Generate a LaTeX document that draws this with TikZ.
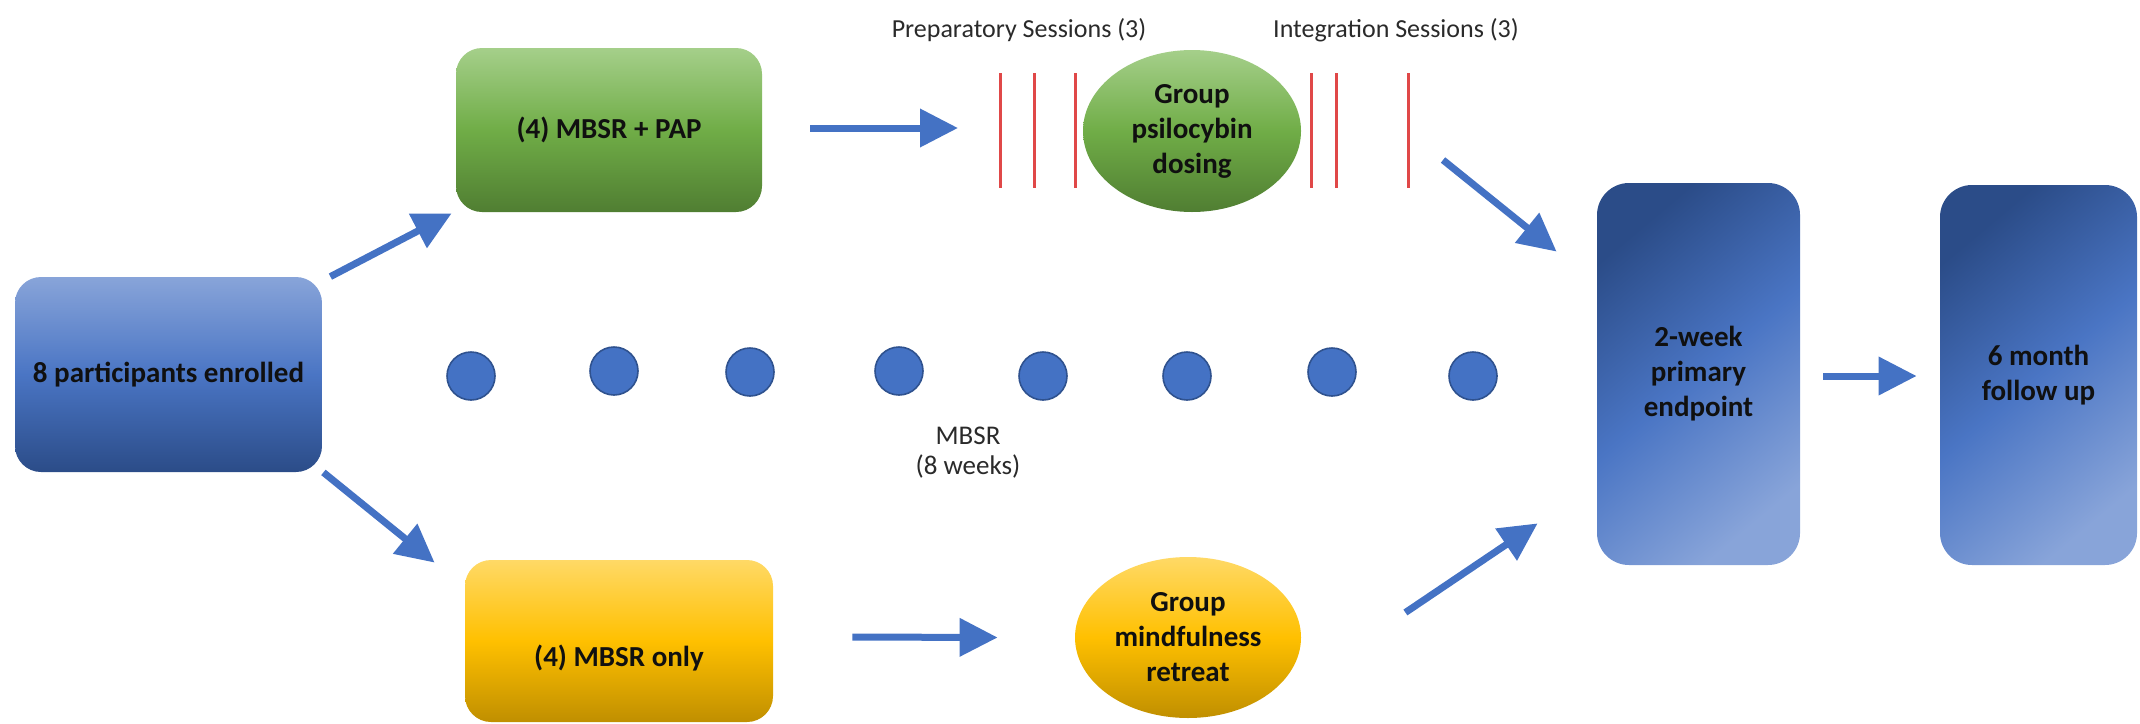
\documentclass[tikz,border=0pt]{standalone}
\usepackage{fontspec}
\setmainfont{Carlito}
\usetikzlibrary{arrows.meta,shapes.geometric}
\definecolor{arrblue}{HTML}{4472C4}
\definecolor{dotedge}{HTML}{2F528F}
\definecolor{blueL}{HTML}{88A4D9}
\definecolor{blueM}{HTML}{4A75C4}
\definecolor{blueD}{HTML}{2B4C88}
\definecolor{greenL}{HTML}{A5CF8A}
\definecolor{greenM}{HTML}{70AD47}
\definecolor{greenD}{HTML}{507E32}
\definecolor{yelL}{HTML}{FFD966}
\definecolor{yelM}{HTML}{FFC000}
\definecolor{yelD}{HTML}{C08F00}
\definecolor{redline}{HTML}{E04848}
\definecolor{txtdark}{HTML}{101010}
\definecolor{txtgray}{HTML}{2A2A2A}
\begin{document}
\begin{tikzpicture}[x=0.5pt,y=-0.5pt,
  arr/.style={draw=arrblue, line width=3.5pt, -{Triangle[length=19pt,width=18.5pt]}},
  boxtxt/.style={font=\bfseries\fontsize{14.5}{17.5}\selectfont, text=txtdark, align=center, inner sep=0pt},
  bluevbox/.style={boxtxt, rounded corners=13pt, top color=blueL, bottom color=blueD, middle color=blueM},
  bluedbox/.style={boxtxt, rounded corners=16pt, top color=blueD, bottom color=blueL, middle color=blueM, shading angle=40},
  greenbox/.style={boxtxt, rounded corners=13pt, top color=greenL, bottom color=greenD, middle color=greenM},
  yelbox/.style={boxtxt, rounded corners=13pt, top color=yelL, bottom color=yelD, middle color=yelM},
  greenell/.style={boxtxt, ellipse, top color=greenL, bottom color=greenD, middle color=greenM},
  yelell/.style={boxtxt, ellipse, top color=yelL, bottom color=yelD, middle color=yelM},
  weekdot/.style={circle, minimum size=24pt, inner sep=0pt, fill=arrblue, draw=dotedge, line width=0.8pt},
  toplabel/.style={font=\fontsize{13}{15.6}\selectfont, text=txtgray, inner sep=0pt},
  session/.style={draw=redline, line width=1.5pt}
]
\useasboundingbox (0,0) rectangle (2140,723);

% boxes
\node[bluevbox, minimum width=153.5pt, minimum height=97.5pt] (enrolled) at (168.5,374.5) {8 participants enrolled};
\node[greenbox, minimum width=153pt, minimum height=82pt] (pap) at (609,130) {(4) MBSR + PAP};
\node[yelbox, minimum width=154pt, minimum height=81pt,
      label={[boxtxt, yshift=-8.5pt]center:(4) MBSR only}] (only) at (619,641) {};
\node[greenell, minimum width=109pt, minimum height=81pt] (dosing) at (1192,131) {Group\\psilocybin\\dosing};
\node[yelell, minimum width=113pt, minimum height=80.5pt] (retreat) at (1188,637.5) {Group\\mindfulness\\retreat};
\node[bluedbox, minimum width=101.5pt, minimum height=191pt] (endpoint) at (1698.5,374) {2-week\\primary\\endpoint};
\node[bluedbox, minimum width=98.5pt, minimum height=190pt] (follow) at (2038.5,375) {6 month\\follow up};

% labels
\node[toplabel] (prep) at (1019,30) {Preparatory Sessions (3)};
\node[toplabel] (integ) at (1396,30) {Integration Sessions (3)};
\node[toplabel, align=center, font=\fontsize{13.5}{15}\selectfont] (mbsr) at (968,453) {MBSR\\(8 weeks)};

% session lines
\foreach \x in {1000,1034,1075,1311,1336,1408}
  \draw[session] (\x,73) -- (\x,188);

% weekly dots
\node[weekdot] (w1) at (471,376) {};
\node[weekdot] (w2) at (614,371) {};
\node[weekdot] (w3) at (750,372) {};
\node[weekdot] (w4) at (899,371) {};
\node[weekdot] (w5) at (1043,376) {};
\node[weekdot] (w6) at (1187,376) {};
\node[weekdot] (w7) at (1332,372) {};
\node[weekdot] (w8) at (1473,376) {};

% free arrow ends
\coordinate (papEnd) at (958,128);
\coordinate (integStart) at (1443,160);

% arrows
\draw[arr] ([shift={(8,0)}]enrolled.north east) -- ([shift={(-4,1)}]pap.south west);
\draw[arr] ([shift={(1,0)}]enrolled.south east) -- ([shift={(-30,3)}]only.north west);
\draw[arr] ([shift={(48,-2)}]pap.east) -- (papEnd);
\draw[arr] (integStart) -- ([shift={(-40,69)}]endpoint.north west);
\draw[arr] ([shift={(79,-4)}]only.east) -- ([shift={(-77,0)}]retreat.west);
\draw[arr] ([shift={(104,-25)}]retreat.east) -- ([shift={(-59,-42)}]endpoint.south west);
\draw[arr] ([shift={(23,2)}]endpoint.east) -- ([shift={(-23,1)}]follow.west);
\end{tikzpicture}
\end{document}
